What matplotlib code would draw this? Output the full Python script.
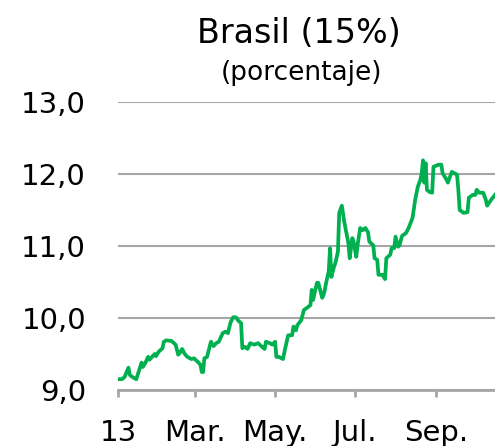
import pandas as pd
import matplotlib
matplotlib.use('Agg')
import matplotlib.pyplot as plt
import matplotlib.dates as mdates

# days elapsed since 2013-01-01 and rate (%)
days = [0, 3, 5, 8, 9, 11, 14, 15, 18, 19, 21, 23, 24, 26, 28, 29, 31, 34, 35, 37,
        41, 44, 46, 47, 49, 51, 53, 56, 58, 61, 63, 64, 65, 66, 68, 71, 73, 75, 77, 80,
        82, 84, 86, 88, 90, 92, 94, 95, 97, 99, 101, 104, 107, 110, 112, 113, 116, 118, 120, 121,
        123, 126, 128, 130, 133, 134, 136, 137, 140, 142, 145, 147, 148, 149, 152, 153, 156, 157, 158, 159,
        161, 162, 163, 165, 166, 168, 169, 171, 173, 176, 177, 179, 180, 182, 183, 185, 187, 189, 191, 192,
        195, 196, 198, 199, 202, 204, 205, 208, 209, 211, 212, 214, 215, 217, 220, 222, 225, 227, 229, 231,
        232, 233, 234, 235, 236, 238, 240, 241, 245, 247, 248, 251, 252, 255, 259, 260, 261, 264, 267, 268,
        271, 273, 274, 276, 279, 281, 282, 285, 288]
rate = [9.15, 9.15, 9.18, 9.31, 9.21, 9.18, 9.15, 9.21, 9.38, 9.32, 9.38, 9.46, 9.42, 9.46, 9.50, 9.47, 9.53, 9.58, 9.67, 9.69,
        9.68, 9.63, 9.49, 9.51, 9.57, 9.50, 9.46, 9.43, 9.44, 9.39, 9.35, 9.25, 9.25, 9.44, 9.46, 9.67, 9.61, 9.65, 9.67, 9.79,
        9.81, 9.79, 9.94, 10.01, 10.01, 9.96, 9.93, 9.58, 9.60, 9.57, 9.65, 9.63, 9.65, 9.60, 9.57, 9.67, 9.65, 9.63, 9.67, 9.46,
        9.46, 9.43, 9.60, 9.76, 9.76, 9.88, 9.83, 9.90, 9.97, 10.11, 10.15, 10.18, 10.39, 10.25, 10.49, 10.49, 10.28, 10.32, 10.39, 10.49,
        10.65, 10.97, 10.57, 10.71, 10.76, 10.92, 11.46, 11.56, 11.32, 11.04, 10.83, 11.11, 11.06, 10.85, 11.01, 11.25, 11.22, 11.25, 11.19, 11.06,
        11.01, 10.83, 10.81, 10.60, 10.60, 10.54, 10.83, 10.88, 10.97, 10.97, 11.13, 10.99, 11.01, 11.14, 11.18, 11.25, 11.39, 11.64, 11.82, 11.92,
        12.01, 12.19, 11.88, 12.15, 11.78, 11.75, 11.74, 12.10, 12.13, 12.13, 12.01, 11.92, 11.88, 12.03, 11.99, 11.78, 11.50, 11.46, 11.47, 11.67,
        11.71, 11.71, 11.78, 11.74, 11.74, 11.64, 11.56, 11.64, 11.71]

tick_dates = ['2013-01-01', '2013-03-01', '2013-05-01', '2013-07-01', '2013-09-01']
tick_labels = ['13', 'Mar.', 'May.', 'Jul.', 'Sep.']
y_ticks = [9, 10, 11, 12, 13]

start = pd.Timestamp('2013-01-01')
dates = start + pd.to_timedelta(days, unit='D')

fig = plt.figure(figsize=(4.95, 4.46), dpi=100)
ax = fig.add_axes([118 / 495, 1 - 390 / 446, 1 - 118 / 495, (390 - 102) / 446])

ax.plot(dates, rate, color='#00b050', linewidth=2.7, solid_joinstyle='round')

ax.set_ylim(9, 13)
ax.set_xlim(start, start + pd.Timedelta(days=288))
ax.set_yticks(y_ticks)
ax.set_yticklabels([f'{v:.1f}'.replace('.', ',') for v in y_ticks])
ax.set_xticks(pd.to_datetime(tick_dates))
ax.set_xticklabels(tick_labels)

ax.grid(axis='y', color='#a6a6a6', linewidth=1.5)
ax.set_axisbelow(True)
for s in ['top', 'right', 'left']:
    ax.spines[s].set_visible(False)
ax.spines['bottom'].set_color('#a6a6a6')
ax.spines['bottom'].set_linewidth(2)
ax.tick_params(axis='y', length=0, pad=23, labelsize=21)
ax.tick_params(axis='x', length=5, width=2, color='#a6a6a6', pad=16, labelsize=21)

fig.text(0.604, 0.925, 'Brasil (15%)', ha='center', va='center', fontsize=24)
fig.text(0.610, 0.836, '(porcentaje)', ha='center', va='center', fontsize=19)

fig.savefig('out.png', dpi=100)
